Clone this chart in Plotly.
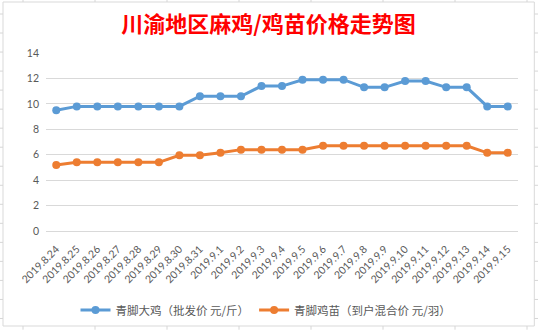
import plotly.graph_objects as go

dates = ["2019.8.24", "2019.8.25", "2019.8.26", "2019.8.27", "2019.8.28", "2019.8.29",
         "2019.8.30", "2019.8.31", "2019.9.1", "2019.9.2", "2019.9.3", "2019.9.4",
         "2019.9.5", "2019.9.6", "2019.9.7", "2019.9.8", "2019.9.9", "2019.9.10",
         "2019.9.11", "2019.9.12", "2019.9.13", "2019.9.14", "2019.9.15"]
big_chicken = [9.5, 9.8, 9.8, 9.8, 9.8, 9.8, 9.8, 10.6, 10.6, 10.6, 11.4, 11.4,
               11.9, 11.9, 11.9, 11.3, 11.3, 11.8, 11.8, 11.3, 11.3, 9.8, 9.8]
chick = [5.2, 5.4, 5.4, 5.4, 5.4, 5.4, 5.95, 5.95, 6.15, 6.4, 6.4, 6.4,
         6.4, 6.7, 6.7, 6.7, 6.7, 6.7, 6.7, 6.7, 6.7, 6.15, 6.15]
series_names = ["青脚大鸡（批发价 元/斤）", "青脚鸡苗（到户混合价 元/羽）"]
title_text = "川渝地区麻鸡/鸡苗价格走势图"

W, H = 538, 330
L, R, T, B = 46, 518, 53.3, 231.3

def px(x):
    return (x - L) / (R - L)

def py(y):
    return (B - y) / (B - T)

fig = go.Figure()
fig.add_trace(go.Scatter(x=dates, y=big_chicken, mode="lines+markers", name=series_names[0],
                         line=dict(color="#5B9BD5", width=3),
                         marker=dict(color="#5B9BD5", size=8)))
fig.add_trace(go.Scatter(x=dates, y=chick, mode="lines+markers", name=series_names[1],
                         line=dict(color="#ED7D31", width=3),
                         marker=dict(color="#ED7D31", size=8)))

shapes = []
grid_col = "#D6D6D6"
# chart border
shapes.append(dict(type="rect", xref="paper", yref="paper",
                   x0=px(3), x1=px(534.3), y0=py(2.3), y1=py(326.3),
                   line=dict(color="#D9D9D9", width=1), fillcolor="rgba(0,0,0,0)", layer="below"))
# spreadsheet cell lines outside the chart
for cx in [23, 95, 167, 239, 311, 383, 455, 527]:
    shapes.append(dict(type="line", xref="paper", yref="paper", x0=px(cx), x1=px(cx),
                       y0=py(0), y1=py(2.3), line=dict(color=grid_col, width=1)))
    shapes.append(dict(type="line", xref="paper", yref="paper", x0=px(cx), x1=px(cx),
                       y0=py(326.3), y1=py(330), line=dict(color=grid_col, width=1)))
for k in range(18):
    ry = 14.3 + 19.03 * k
    if ry > 326:
        break
    shapes.append(dict(type="line", xref="paper", yref="paper", x0=px(0), x1=px(3),
                       y0=py(ry), y1=py(ry), line=dict(color=grid_col, width=1)))
    shapes.append(dict(type="line", xref="paper", yref="paper", x0=px(534.3), x1=px(538),
                       y0=py(ry), y1=py(ry), line=dict(color=grid_col, width=1)))

fig.update_layout(
    width=W, height=H,
    margin=dict(l=L, r=W - R, t=T, b=H - B, pad=0, autoexpand=False),
    paper_bgcolor="white", plot_bgcolor="white",
    font=dict(family="Lato, 'Noto Sans CJK SC', sans-serif", color="#595959"),
    title=dict(text=title_text, xref="container", yref="container",
               x=268.5 / W, y=1 - 24 / H, xanchor="center", yanchor="middle",
               font=dict(family="'Noto Sans CJK SC', sans-serif", size=22, color="#FF0000",
                         weight="bold")),
    xaxis=dict(type="category", range=[-0.5, len(dates) - 0.5], tickangle=-45,
               showgrid=False, showline=True, linecolor="#D9D9D9", linewidth=1,
               ticks="", tickfont=dict(size=10.5, color="#595959"), fixedrange=True,
               ticklabelstandoff=7),
    yaxis=dict(range=[0, 14], dtick=2, showgrid=True, gridcolor="#D9D9D9", gridwidth=1,
               zeroline=False, showline=False, ticks="",
               tickfont=dict(size=10.5, color="#595959"), ticklabelstandoff=6),
    legend=dict(orientation="h", xref="container", yref="container",
                x=266 / W, xanchor="center", y=1 - 310 / H, yanchor="middle",
                font=dict(family="'Noto Sans CJK SC', sans-serif", size=11.5, color="#595959"),
                bgcolor="rgba(0,0,0,0)"),
    shapes=shapes,
    showlegend=True,
)

fig.write_html("out.html")
